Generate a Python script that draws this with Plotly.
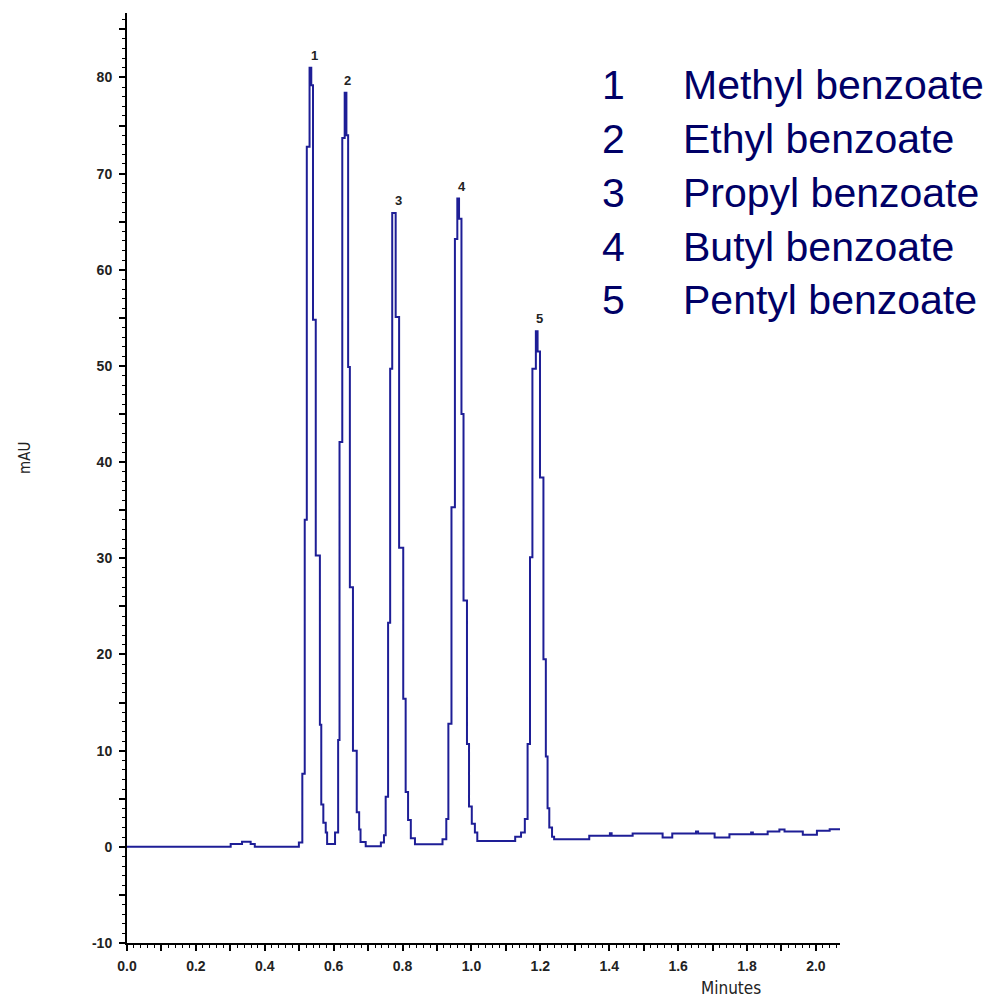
import plotly.graph_objects as go

# Chromatogram trace (stepped detector output), time in minutes, absorbance in mAU
time_min = [0.000, 0.301, 0.334, 0.359, 0.371, 0.499, 0.509, 0.516, 0.522, 0.530,
            0.535, 0.540, 0.548, 0.560, 0.564, 0.570, 0.577, 0.581, 0.604, 0.613,
            0.617, 0.625, 0.632, 0.637, 0.642, 0.647, 0.656, 0.667, 0.674, 0.678,
            0.693, 0.737, 0.746, 0.751, 0.758, 0.764, 0.770, 0.780, 0.790, 0.802,
            0.809, 0.816, 0.824, 0.836, 0.916, 0.927, 0.933, 0.942, 0.952, 0.959,
            0.964, 0.971, 0.977, 0.987, 0.993, 1.001, 1.010, 1.017, 1.127, 1.144,
            1.155, 1.163, 1.170, 1.177, 1.187, 1.192, 1.199, 1.209, 1.216, 1.221,
            1.226, 1.234, 1.240, 1.342, 1.402, 1.407, 1.468, 1.555, 1.583, 1.652,
            1.658, 1.706, 1.749, 1.812, 1.817, 1.860, 1.894, 1.909, 1.962, 2.003,
            2.040, 2.070]
signal_mau = [0.00, 0.30, 0.52, 0.30, 0.02, 0.45, 7.6, 34.0, 72.8, 81.0,
              79.2, 54.8, 30.3, 12.7, 4.4, 2.5, 1.5, 0.3, 1.5, 11.1,
              42.1, 73.7, 78.4, 74.0, 49.9, 27.0, 10.0, 3.6, 1.8, 0.5,
              0.05, 0.45, 1.2, 5.2, 23.3, 49.7, 65.9, 55.1, 31.1, 15.4,
              5.7, 2.8, 0.9, 0.28, 0.8, 2.9, 12.8, 35.3, 63.2, 67.4,
              65.3, 45.0, 25.6, 10.7, 4.2, 2.4, 1.5, 0.6, 1.06, 1.5,
              2.9, 10.7, 30.1, 49.7, 53.6, 51.5, 38.4, 19.5, 9.4, 4.0,
              2.0, 1.06, 0.8, 1.15, 1.4, 1.15, 1.38, 0.97, 1.38, 1.6,
              1.38, 0.97, 1.3, 1.5, 1.3, 1.6, 1.8, 1.6, 1.25, 1.66,
              1.84, 1.84]

# Peak identification
peak_numbers = ["1", "2", "3", "4", "5"]
peak_times = [0.543, 0.640, 0.788, 0.972, 1.197]
peak_heights = [81.0, 78.4, 65.9, 67.4, 53.6]
compounds = ["Methyl benzoate", "Ethyl benzoate", "Propyl benzoate",
             "Butyl benzoate", "Pentyl benzoate"]

# Axis ticks
x_tickvals = [round(0.1 * i, 1) for i in range(21)]
x_ticktext = [f"{v:.1f}" if i % 2 == 0 else "" for i, v in enumerate(x_tickvals)]
y_tickvals = list(range(-10, 90, 5))
y_ticktext = [str(v) if v % 10 == 0 else "" for v in y_tickvals]

W, H = 987, 1001
L, R, T, B = 127, 147, 13, 58
plot_w, plot_h = W - L - R, H - T - B

line_color = "#1e1e96"
text_color = "#000066"
tick_font = dict(family="Liberation Sans, Arial, sans-serif", size=14,
                 color="#222222", weight="bold")

fig = go.Figure()
fig.add_trace(go.Scatter(
    x=time_min, y=signal_mau, mode="lines", line_shape="hv",
    line=dict(color=line_color, width=2), showlegend=False, hoverinfo="skip"))

annotations = []
for num, t, h in zip(peak_numbers, peak_times, peak_heights):
    annotations.append(dict(x=t, y=h, xref="x", yref="y", text=f"<b>{num}</b>",
                            showarrow=False, yanchor="bottom", yshift=3,
                            font=dict(family="Liberation Sans, Arial", size=13, color="#222222")))

def px_x(p):
    return (p - L) / plot_w

def px_y(p):
    return (H - B - p) / plot_h

legend_y = [85, 139, 193, 247, 300]
for num, name, yy in zip(peak_numbers, compounds, legend_y):
    annotations.append(dict(x=px_x(613), y=px_y(yy), xref="paper", yref="paper",
                            text=num, showarrow=False, xanchor="center", yanchor="middle",
                            font=dict(family="Liberation Sans, Arial", size=41, color=text_color)))
    annotations.append(dict(x=px_x(681), y=px_y(yy), xref="paper", yref="paper",
                            text=name, showarrow=False, xanchor="left", yanchor="middle",
                            font=dict(family="Liberation Sans, Arial", size=41, color=text_color)))

annotations.append(dict(x=px_x(25), y=px_y(458), xref="paper", yref="paper", text="mAU",
                        textangle=-90, showarrow=False, xanchor="center", yanchor="middle",
                        font=dict(family="DejaVu Sans Condensed, sans-serif", size=15, color="#222222")))
annotations.append(dict(x=px_x(731), y=px_y(988), xref="paper", yref="paper", text="Minutes",
                        showarrow=False, xanchor="center", yanchor="middle",
                        font=dict(family="DejaVu Sans Condensed, sans-serif", size=17, color="#222222")))

fig.update_layout(
    width=W, height=H,
    margin=dict(l=L, r=R, t=T, b=B),
    paper_bgcolor="white", plot_bgcolor="white",
    annotations=annotations,
    xaxis=dict(range=[0, 2.07], showgrid=False, zeroline=False,
               showline=True, linecolor="black", linewidth=2,
               tickmode="array", tickvals=x_tickvals, ticktext=x_ticktext,
               ticks="outside", ticklen=6, tickwidth=1.5, tickcolor="black",
               ticklabelstandoff=3,
               minor=dict(dtick=0.02, tick0=0, ticks="outside", ticklen=3,
                          tickwidth=1, tickcolor="black", showgrid=False),
               tickfont=tick_font),
    yaxis=dict(range=[-10, 86.7], showgrid=False, zeroline=False,
               showline=True, linecolor="black", linewidth=2,
               tickmode="array", tickvals=y_tickvals, ticktext=y_ticktext,
               ticks="outside", ticklen=6, tickwidth=1.5, tickcolor="black",
               ticklabelstandoff=4,
               minor=dict(dtick=1, tick0=0, ticks="outside", ticklen=3,
                          tickwidth=1, tickcolor="black", showgrid=False),
               tickfont=tick_font),
)

fig.write_html("out.html")
